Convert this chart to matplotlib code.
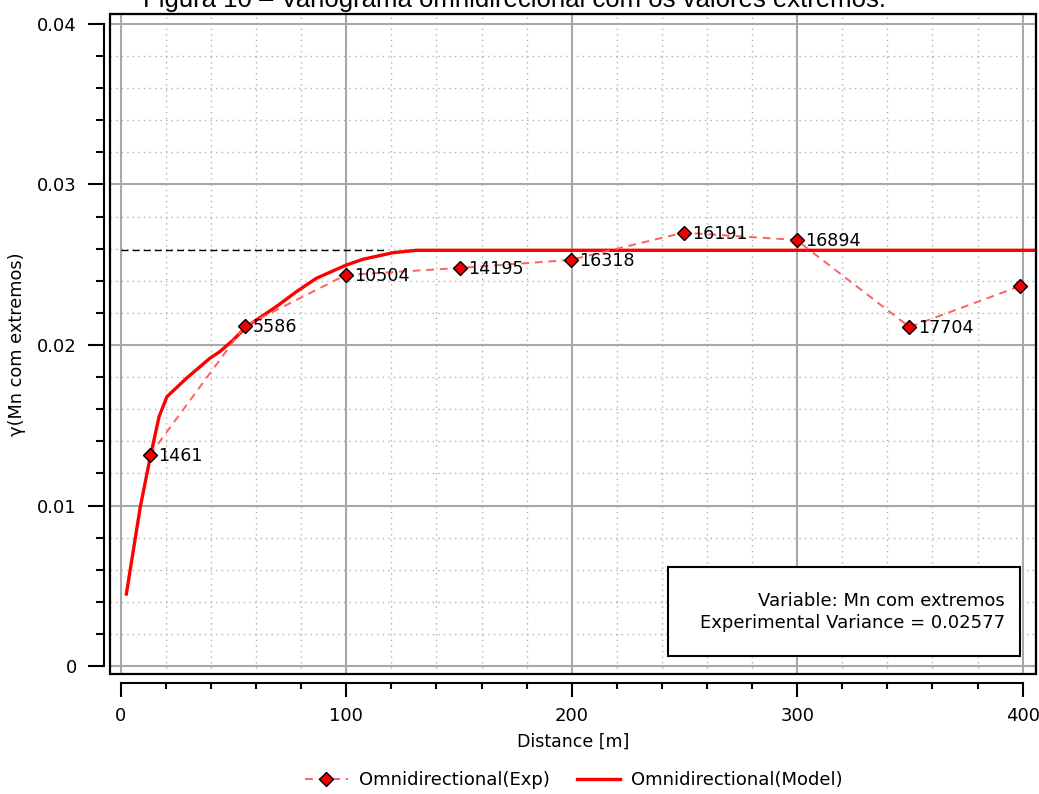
import matplotlib.pyplot as plt
from matplotlib.patches import Rectangle
from matplotlib.ticker import MultipleLocator

# experimental variogram points and pair counts
exp_dist = [12.9, 55.0, 99.8, 150.3, 199.5, 249.6, 299.7, 349.8, 399.0]
exp_gamma = [0.01315, 0.02118, 0.02436, 0.0248, 0.0253, 0.0270, 0.02654, 0.02112, 0.02368]
exp_pairs = ["1461", "5586", "10504", "14195", "16318", "16191", "16894", "17704", ""]

# fitted model curve
model_dist = [2.5, 8.7, 13.3, 17.0, 20.5, 29.1, 39.5, 43.9, 49.8, 55.7, 69.0,
              77.9, 86.8, 100.0, 107.4, 120.7, 131.0, 410.0]
model_gamma = [0.00449, 0.00993, 0.01315, 0.01553, 0.01678, 0.01792, 0.01917,
               0.01958, 0.0203, 0.02114, 0.02239, 0.02332, 0.02416, 0.02498,
               0.02534, 0.02575, 0.0259, 0.0259]

sill = 0.0259
sill_dist = [0, 118]

fig = plt.figure(figsize=(10.39, 7.94), dpi=100)
ax = fig.add_axes([0.1059, 0.1511, 0.8912, 0.8313])
ax.set_xlim(-4.74, 405.9)
ax.set_ylim(-0.000498, 0.040623)

ax.xaxis.set_major_locator(MultipleLocator(100))
ax.xaxis.set_minor_locator(MultipleLocator(20))
ax.yaxis.set_major_locator(MultipleLocator(0.01))
ax.yaxis.set_minor_locator(MultipleLocator(0.002))
ax.set_yticks([0, 0.01, 0.02, 0.03, 0.04], ["0", "0.01", "0.02", "0.03", "0.04"])

ax.grid(True, which="major", color="#a8a8a8", lw=1.5)
ax.grid(True, which="minor", color="#b0b0b0", lw=1.0, ls=(0, (1, 3)))
ax.set_axisbelow(True)

# frame + offset axes
for s in ["top", "right"]:
    ax.spines[s].set_linewidth(1.5)
ax.spines["left"].set_position(("outward", 4.5))
ax.spines["bottom"].set_position(("outward", 6.5))
ax.spines["left"].set_bounds(0, 0.04)
ax.spines["bottom"].set_bounds(0, 400)
ax.spines["left"].set_linewidth(1.5)
ax.spines["bottom"].set_linewidth(1.5)
ax.add_patch(Rectangle((0, 0), 1, 1, transform=ax.transAxes, fill=False,
                       lw=1.6, ec="black", zorder=6, clip_on=False))

ax.tick_params(axis="y", which="major", length=11.5, width=1.5, pad=8, labelsize=13)
ax.tick_params(axis="y", which="minor", length=6, width=1.5)
ax.tick_params(axis="x", which="major", length=10, width=1.5, pad=7, labelsize=13)
ax.tick_params(axis="x", which="minor", length=4.5, width=1.5)

ax.plot(sill_dist, [sill, sill], color="black", lw=1, ls=(0, (5, 3)), zorder=3)
ax.plot(model_dist, model_gamma, color="#ff0000", lw=2.4, zorder=4,
        label="Omnidirectional(Model)")
ax.plot(exp_dist, exp_gamma, color="#ff6060", lw=1.4, ls=(0, (4, 3)),
        marker="D", ms=7.5, mfc="#ee0000", mec="black", mew=1.0, zorder=5,
        label="Omnidirectional(Exp)")

for x, y, t in zip(exp_dist, exp_gamma, exp_pairs):
    ax.annotate(t, (x, y), xytext=(6, -1), textcoords="offset points",
                va="center", ha="left", fontsize=12.6, zorder=7)

ax.set_xlabel("Distance [m]", fontsize=12.5, labelpad=6)
ax.set_ylabel("γ(Mn com extremos)", fontsize=12.8, labelpad=8)

ax.text(0.9665, 0.124, "Variable: Mn com extremos\nExperimental Variance = 0.02577",
        transform=ax.transAxes, ha="right", va="top", fontsize=13,
        linespacing=1.3, zorder=8)
ax.add_patch(Rectangle((0.6026, 0.0273), 0.380, 0.1348, transform=ax.transAxes,
                       fill=True, fc="white", ec="black", lw=1.5, zorder=7))

h, l = ax.get_legend_handles_labels()
fig.legend(h[::-1], l[::-1], loc="lower center", bbox_to_anchor=(0.552, -0.014),
           ncol=2, frameon=False, fontsize=13, handlelength=2.4, handletextpad=0.6,
           columnspacing=1.5)

fig.text(0.495, 1 - 7 / 794, "Figura 10 – Variograma omnidirecional com os valores extremos.",
         ha="center", va="baseline", fontsize=18.5, family="Liberation Sans")

fig.savefig("out.png", dpi=100)
